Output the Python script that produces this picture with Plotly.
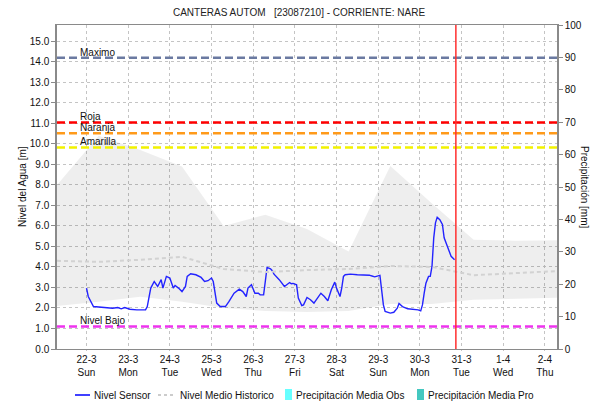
import pandas as pd
import plotly.graph_objects as go

BASE = pd.Timestamp("2020-03-22 00:00")

# sensor readings: hours after 22-3 00:00 and level in metres
SENSOR_H = [0, 1, 4, 8, 11, 15, 18, 20, 22, 25, 29, 34, 35, 37, 39, 41, 43, 44, 46, 48,
            50, 51, 53, 55, 57, 58, 60, 63, 66, 68, 70, 72, 73, 74, 75, 77, 80, 82, 84, 85,
            88, 90, 92, 93, 95, 97, 99, 100, 102, 103, 104, 106, 107, 108, 111, 114, 115, 117, 118, 119,
            121, 122, 124, 125, 127, 129, 131, 133, 135, 137, 139, 141, 143, 144, 146, 147, 148, 149, 152, 156,
            159, 163, 164, 166, 169, 170, 171, 172, 175, 177, 179, 180, 182, 185, 188, 191, 192.5, 193.5, 194.5, 195.5,
            197, 198, 199, 200, 201, 202, 203.5, 205, 206, 208, 210, 212]
SENSOR_M = [2.97, 2.56, 2.07, 2.04, 2.04, 1.99, 2.02, 1.96, 2.02, 1.94, 1.91, 1.91, 2.07, 2.97, 3.29, 3.05, 3.38, 2.97, 3.54, 3.46,
            2.97, 3.1, 2.97, 2.8, 3.05, 3.54, 3.67, 3.62, 3.49, 3.29, 3.33, 3.46, 3.29, 2.8, 2.24, 2.07, 2.07, 2.31, 2.56, 2.72,
            2.92, 2.8, 2.56, 2.97, 3.13, 2.72, 2.72, 2.64, 2.64, 3.46, 3.98, 3.91, 3.82, 3.65, 3.38, 3.05, 3.13, 3.24, 3.18, 3.2,
            3.13, 2.48, 2.12, 2.15, 2.51, 2.4, 2.24, 2.48, 2.72, 2.56, 2.35, 2.89, 3.26, 2.97, 2.56, 2.97, 3.54, 3.62, 3.65, 3.62,
            3.62, 3.6, 3.57, 3.52, 3.59, 2.97, 2.15, 1.83, 1.75, 1.79, 1.99, 2.22, 2.07, 1.96, 1.94, 1.91, 1.86, 2.15, 2.72, 3.21,
            3.54, 3.54, 4.03, 5.42, 6.15, 6.42, 6.31, 6.07, 5.42, 4.93, 4.52, 4.35]

# historical band, one value a day at 07:00 from 21-3 to 2-4
HIST_DAYS = ["2020-03-21", "2020-03-22", "2020-03-23", "2020-03-24", "2020-03-25", "2020-03-26", "2020-03-27",
             "2020-03-28", "2020-03-29", "2020-03-30", "2020-03-31", "2020-04-01", "2020-04-02"]
HIST_MAX = [8.0, 10.4, 9.7, 8.9, 6.0, 6.55, 5.85, 4.76, 8.92, 7.1, 5.33, 5.28, 5.3]
HIST_MIN = [2.1, 2.3, 2.55, 2.3, 2.0, 1.85, 1.8, 1.85, 2.2, 2.2, 2.4, 2.45, 2.5]
HIST_MEAN = [4.3, 4.25, 4.35, 4.5, 3.9, 3.75, 3.85, 3.9, 4.05, 4.0, 3.6, 3.7, 3.8]

THRESH_NAMES = ["Maximo", "Roja", "Naranja", "Amarilla", "Nivel Bajo"]
THRESH_VALUES = [14.2, 11.05, 10.52, 9.83, 1.1]
THRESH_COLORS = ["#6b7aa1", "#ff0000", "#ff9a1a", "#f2f200", "#ee33ee"]

TICK_DAYS = ["2020-03-22", "2020-03-23", "2020-03-24", "2020-03-25", "2020-03-26", "2020-03-27",
             "2020-03-28", "2020-03-29", "2020-03-30", "2020-03-31", "2020-04-01", "2020-04-02"]
TICK_TEXT = ["22-3<br>Sun", "23-3<br>Mon", "24-3<br>Tue", "25-3<br>Wed", "26-3<br>Thu", "27-3<br>Fri",
             "28-3<br>Sat", "29-3<br>Sun", "30-3<br>Mon", "31-3<br>Tue", "1-4<br>Wed", "2-4<br>Thu"]

LEGEND_NAMES = ["Nivel Sensor", "Nivel Medio Historico", "Precipitación Media Obs", "Precipitación Media Pro"]
LEGEND_COLORS = ["#0000ff", "#cccccc", "#66ffff", "#44c8c0"]

NOW = "2020-03-30 20:45"
FONT = "Liberation Sans"

# plot area in pixels, used to place the hand-made legend below it
PL, PW, PB, PH = 57, 500, 349, 324


def px_x(p):
    return (p - PL) / PW


def px_y(p):
    return (PB - p) / PH


sensor_t = [BASE + pd.Timedelta(hours=h) for h in SENSOR_H]
hist_t = [pd.Timestamp(d) + pd.Timedelta(hours=7) for d in HIST_DAYS]

fig = go.Figure()

# grey historical envelope
fig.add_trace(go.Scatter(x=hist_t, y=HIST_MIN, mode="lines", line=dict(width=0),
                         showlegend=False, hoverinfo="skip"))
fig.add_trace(go.Scatter(x=hist_t, y=HIST_MAX, mode="lines", line=dict(width=0),
                         fill="tonexty", fillcolor="rgba(0,0,0,0.065)",
                         showlegend=False, hoverinfo="skip"))

fig.add_trace(go.Scatter(x=sensor_t, y=SENSOR_M, mode="lines", name=LEGEND_NAMES[0],
                         line=dict(color="#2323ff", width=1.4), showlegend=False))
fig.add_trace(go.Scatter(x=hist_t, y=HIST_MEAN, mode="lines", name=LEGEND_NAMES[1],
                         line=dict(color="#d2d2d2", width=2, dash="4px,3px"), showlegend=False))
# no precipitation in this window; the empty series stay on the right axis
fig.add_trace(go.Bar(x=[None], y=[None], name=LEGEND_NAMES[2], marker_color=LEGEND_COLORS[2],
                     yaxis="y2", showlegend=False))
fig.add_trace(go.Bar(x=[None], y=[None], name=LEGEND_NAMES[3], marker_color=LEGEND_COLORS[3],
                     yaxis="y2", showlegend=False))

for name, val, col in zip(THRESH_NAMES, THRESH_VALUES, THRESH_COLORS):
    fig.add_shape(type="line", xref="paper", x0=0, x1=1, yref="y", y0=val, y1=val,
                  line=dict(color=col, width=2.5, dash="8px,4px"))
    fig.add_annotation(text=name, xref="paper", x=0.042, xanchor="left", yref="y", y=val,
                       yanchor="bottom", yshift=-2, showarrow=False,
                       font=dict(size=10, color="#111", family=FONT))

fig.add_shape(type="line", xref="x", x0=NOW, x1=NOW, yref="paper", y0=0, y1=1,
              line=dict(color="#ff3030", width=1.5))

# axis titles
fig.add_annotation(text="Nivel del Agua [m]", xref="paper", x=px_x(22), xanchor="center",
                   yref="paper", y=0.5, textangle=-90, showarrow=False,
                   font=dict(size=10, color="#111", family=FONT))
fig.add_annotation(text="Precipitación [mm]", xref="paper", x=px_x(585), xanchor="center",
                   yref="paper", y=0.5, textangle=90, showarrow=False,
                   font=dict(size=10, color="#111", family=FONT))

# compact legend row under the chart
ly = px_y(395)
fig.add_shape(type="line", xref="paper", yref="paper", x0=px_x(75), x1=px_x(90), y0=ly, y1=ly,
              line=dict(color=LEGEND_COLORS[0], width=1.5))
fig.add_shape(type="line", xref="paper", yref="paper", x0=px_x(158), x1=px_x(175), y0=ly, y1=ly,
              line=dict(color=LEGEND_COLORS[1], width=2, dash="3px,3px"))
fig.add_shape(type="rect", xref="paper", yref="paper", x0=px_x(285), x1=px_x(292),
              y0=px_y(400), y1=px_y(389), line=dict(width=0), fillcolor=LEGEND_COLORS[2])
fig.add_shape(type="rect", xref="paper", yref="paper", x0=px_x(417), x1=px_x(424),
              y0=px_y(400), y1=px_y(389), line=dict(width=0), fillcolor=LEGEND_COLORS[3])
for name, left in zip(LEGEND_NAMES, [92, 178, 294, 426]):
    fig.add_annotation(text=name, xref="paper", x=px_x(left), xanchor="left",
                       yref="paper", y=ly, yanchor="middle", showarrow=False,
                       font=dict(size=10, color="#111", family=FONT))

fig.update_layout(
    template="none",
    width=598, height=403,
    margin=dict(l=57, r=41, t=25, b=54, autoexpand=False),
    paper_bgcolor="white", plot_bgcolor="white",
    font=dict(family=FONT, size=10, color="#111"),
    title=dict(text="CANTERAS AUTOM   [23087210] - CORRIENTE: NARE", x=0.5, xanchor="center",
               y=1 - 12 / 403, yanchor="middle", font=dict(size=10, color="#222", family=FONT)),
    xaxis=dict(type="date", range=["2020-03-21 07:00", "2020-04-02 07:00"],
               tickvals=TICK_DAYS, ticktext=TICK_TEXT, tickfont=dict(size=10),
               showgrid=True, gridcolor="#c4c4c4", griddash="dot", gridwidth=1,
               showline=True, mirror=True, linecolor="#8a8a8a", linewidth=1,
               ticks="outside", ticklen=1, tickcolor="#c4c4c4", automargin=False, zeroline=False),
    yaxis=dict(range=[0, 15.8], tick0=0, dtick=1, tickformat=".1f",
               showgrid=True, gridcolor="#c4c4c4", griddash="dot", gridwidth=1,
               showline=True, linecolor="#8a8a8a", linewidth=1.5,
               ticks="outside", ticklen=4, tickcolor="#8a8a8a", automargin=False, zeroline=False),
    yaxis2=dict(range=[0, 100], dtick=10, overlaying="y", side="right", showgrid=False,
                showline=True, linecolor="#8a8a8a", linewidth=1.5,
                ticks="outside", ticklen=4, tickcolor="#8a8a8a", automargin=False, zeroline=False),
    showlegend=False,
)

fig.write_html("out.html", config={"displayModeBar": False},
               post_script="document.body.style.margin='0';")
